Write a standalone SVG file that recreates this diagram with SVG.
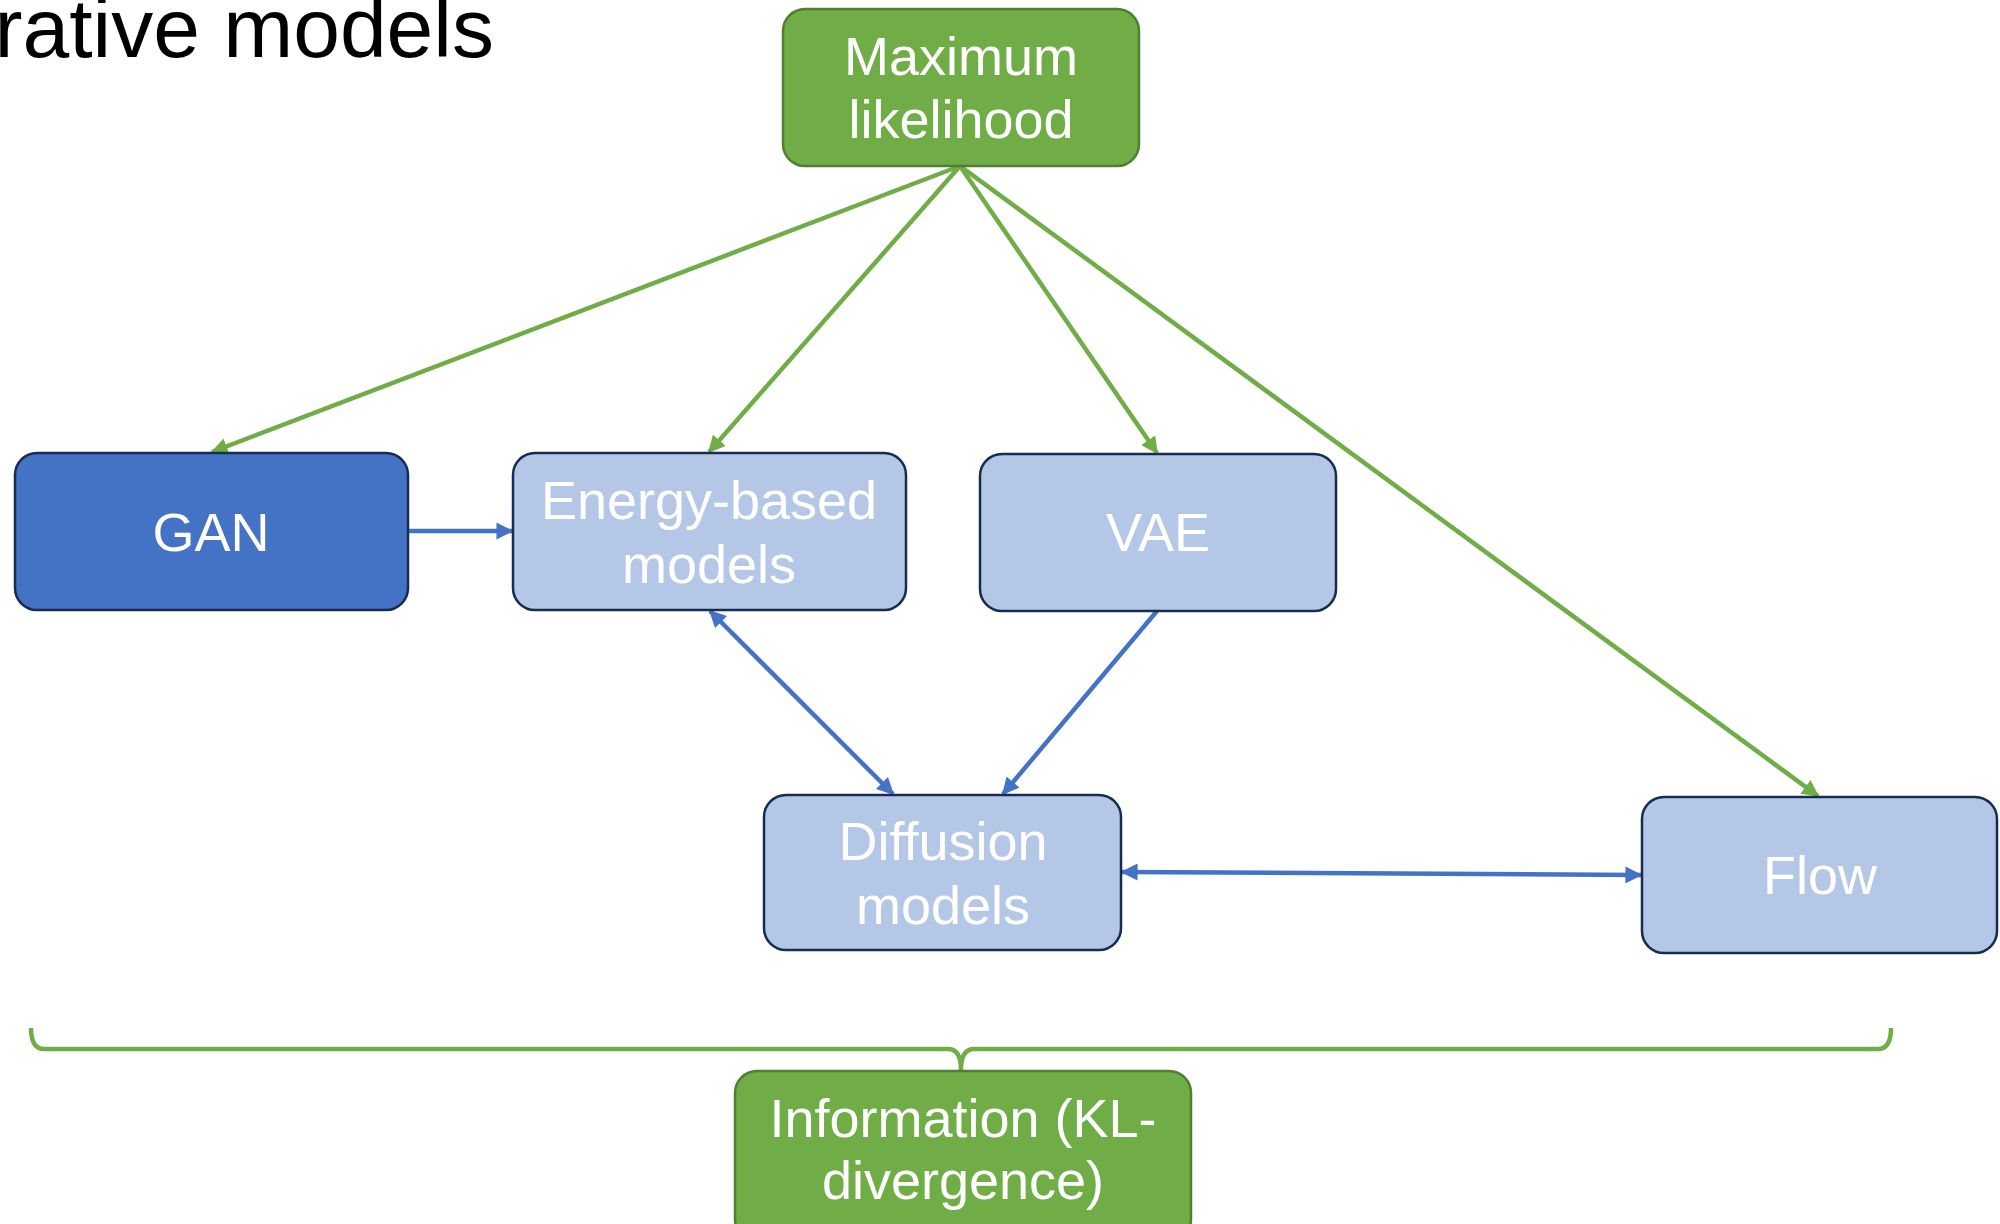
<svg xmlns="http://www.w3.org/2000/svg" width="2000" height="1224" viewBox="0 0 2000 1224">
<style>
  .t{font-family:"Liberation Sans",Arial,Helvetica,sans-serif;fill:#fff;font-size:54px;text-anchor:middle}
  .blue{fill:#B4C7E7;stroke:#172C51;stroke-width:2.5}
  .dark{fill:#4472C4;stroke:#172C51;stroke-width:2.5}
  .green{fill:#70AD47;stroke:#507E32;stroke-width:2.5}
  .cg{stroke:#70AD47;stroke-width:4.5;fill:none}
  .cb{stroke:#4472C4;stroke-width:4.5;fill:none}
</style>
<defs>
  <marker id="ag" viewBox="0 0 12 12" refX="11" refY="6" markerWidth="17" markerHeight="17" markerUnits="userSpaceOnUse" orient="auto-start-reverse">
    <path d="M0,0 L12,6 L0,12 Z" fill="#70AD47"/>
  </marker>
  <marker id="ab" viewBox="0 0 12 12" refX="11" refY="6" markerWidth="17" markerHeight="17" markerUnits="userSpaceOnUse" orient="auto-start-reverse">
    <path d="M0,0 L12,6 L0,12 Z" fill="#4472C4"/>
  </marker>
</defs>
<rect width="2000" height="1224" fill="#fff"/>
<text x="494" y="57" font-family="'Liberation Sans',Arial,Helvetica,sans-serif" font-size="84" text-anchor="end" fill="#000">rative models</text>

<g id="connectors">
  <line class="cg" x1="960" y1="166" x2="212" y2="452" marker-end="url(#ag)"/>
  <line class="cg" x1="960" y1="166" x2="709" y2="452" marker-end="url(#ag)"/>
  <line class="cg" x1="960" y1="166" x2="1157" y2="453" marker-end="url(#ag)"/>
  <line class="cg" x1="960" y1="166" x2="1818" y2="796" marker-end="url(#ag)"/>
  <line class="cb" x1="408" y1="531" x2="512" y2="531" marker-end="url(#ab)"/>
  <line class="cb" x1="710" y1="611" x2="893" y2="794" marker-start="url(#ab)" marker-end="url(#ab)"/>
  <line class="cb" x1="1157" y1="611" x2="1003" y2="794" marker-end="url(#ab)"/>
  <line class="cb" x1="1122" y1="872" x2="1641" y2="875" marker-start="url(#ab)" marker-end="url(#ab)"/>
  <path class="cg" d="M31,1028 Q31,1049 44,1049 L948,1049 Q961,1049 961,1070 Q961,1049 974,1049 L1878,1049 Q1891,1049 1891,1028"/>
</g>

<g id="max-likelihood">
  <rect class="green" x="783" y="9" width="356" height="157" rx="22"/>
  <text class="t" x="961" y="75">Maximum</text>
  <text class="t" x="961" y="138">likelihood</text>
</g>
<g id="gan">
  <rect class="dark" x="15" y="453" width="393" height="157" rx="22"/>
  <text class="t" x="211" y="551">GAN</text>
</g>
<g id="energy">
  <rect class="blue" x="513" y="453" width="393" height="157" rx="22"/>
  <text class="t" x="709" y="519">Energy-based</text>
  <text class="t" x="709" y="583">models</text>
</g>
<g id="vae">
  <rect class="blue" x="980" y="454" width="356" height="157" rx="22"/>
  <text class="t" x="1158" y="551">VAE</text>
</g>
<g id="diffusion">
  <rect class="blue" x="764" y="795" width="357" height="155" rx="22"/>
  <text class="t" x="943" y="860">Diffusion</text>
  <text class="t" x="943" y="924">models</text>
</g>
<g id="flow">
  <rect class="blue" x="1642" y="797" width="355" height="156" rx="22"/>
  <text class="t" x="1820" y="894">Flow</text>
</g>
<g id="information">
  <rect class="green" x="735" y="1071" width="456" height="170" rx="22"/>
  <text class="t" x="963" y="1137">Information (KL-</text>
  <text class="t" x="963" y="1199">divergence)</text>
</g>
</svg>
